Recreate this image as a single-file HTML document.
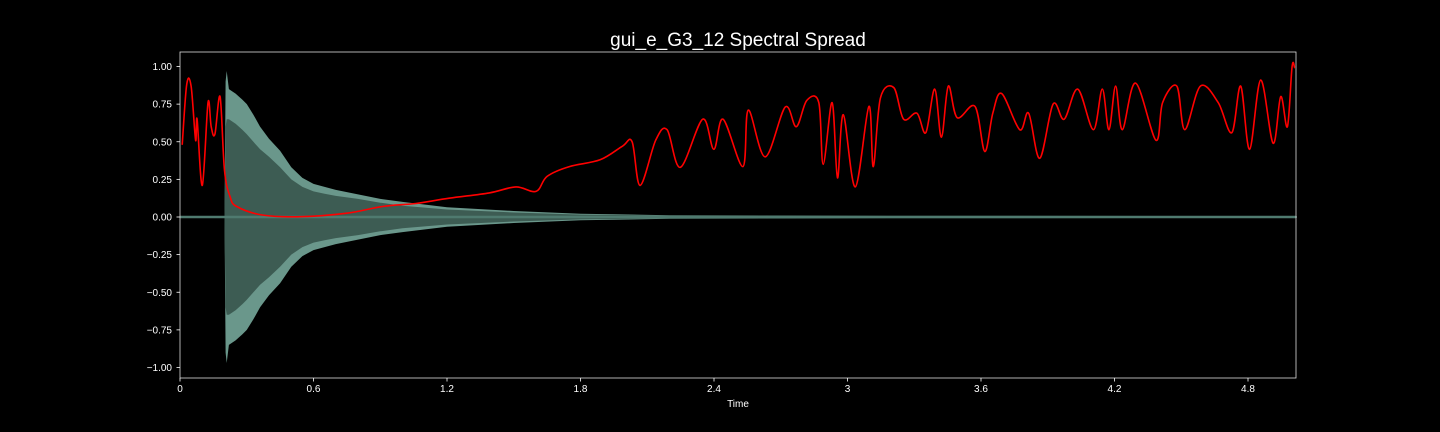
<!DOCTYPE html>
<html><head><meta charset="utf-8"><style>
html,body{margin:0;padding:0;background:#000;}
svg{display:block;font-family:"Liberation Sans",sans-serif;}
</style></head><body>
<svg id="chart" width="1440" height="432" viewBox="0 0 1440 432">
<rect width="1440" height="432" fill="#000"/>
<text x="738" y="46" fill="#fff" font-size="19" text-anchor="middle">gui_e_G3_12 Spectral Spread</text>
<g id="wave"></g>
<g id="red"></g>
<rect x="180" y="52" width="1116" height="326" fill="none" stroke="#ddd" stroke-width="0.8"/>
<g id="xticks"></g>
<g id="yticks"></g>
<text x="738" y="407" fill="#fff" font-size="10" text-anchor="middle">Time</text>
</svg>
<script>
const spreadTimes=[0.01,0.03,0.05,0.07,0.077,0.10,0.126,0.14,0.157,0.18,0.20,0.225,0.255,0.37,0.54,0.75,0.91,1.06,1.21,1.39,1.51,1.60,1.65,1.75,1.888,1.988,2.032,2.068,2.138,2.189,2.249,2.349,2.399,2.441,2.530,2.554,2.630,2.720,2.770,2.817,2.871,2.891,2.931,2.955,2.981,3.035,3.096,3.116,3.148,3.208,3.252,3.312,3.352,3.392,3.422,3.453,3.493,3.573,3.617,3.653,3.693,3.774,3.814,3.864,3.924,3.974,4.035,4.105,4.145,4.175,4.205,4.235,4.295,4.386,4.416,4.480,4.516,4.586,4.666,4.727,4.767,4.807,4.857,4.913,4.947,4.977,4.998,5.01];
const spreadValues=[0.48,0.88,0.87,0.51,0.65,0.21,0.76,0.60,0.55,0.80,0.31,0.135,0.07,0.013,0.002,0.025,0.07,0.09,0.125,0.16,0.20,0.17,0.27,0.335,0.38,0.47,0.50,0.21,0.51,0.58,0.33,0.65,0.45,0.65,0.335,0.71,0.40,0.73,0.60,0.775,0.76,0.35,0.76,0.26,0.68,0.20,0.735,0.335,0.79,0.86,0.65,0.69,0.56,0.85,0.53,0.87,0.66,0.735,0.435,0.69,0.82,0.58,0.69,0.39,0.75,0.65,0.85,0.58,0.85,0.58,0.87,0.58,0.89,0.51,0.76,0.87,0.58,0.87,0.76,0.56,0.87,0.45,0.91,0.49,0.80,0.60,1.00,0.99];
const envTimes=[0,0.2,0.205,0.21,0.22,0.25,0.28,0.30,0.33,0.36,0.40,0.45,0.50,0.55,0.60,0.65,0.70,0.80,0.90,1.0,1.2,1.5,1.8,2.2,3.0,5.02];
const envValues=[0.005,0.005,0.9,0.97,0.85,0.82,0.78,0.75,0.68,0.6,0.52,0.44,0.33,0.26,0.22,0.2,0.18,0.15,0.12,0.1,0.065,0.04,0.022,0.012,0.008,0.006];
const innerValues=[0.005,0.005,0.6,0.65,0.65,0.62,0.58,0.55,0.5,0.45,0.4,0.33,0.25,0.2,0.17,0.155,0.14,0.12,0.095,0.075,0.05,0.03,0.016,0.009,0.005,0.004];
const xTickVals=[0,0.6,1.2,1.8,2.4,3,3.6,4.2,4.8];
const xTickLabels=["0","0.6","1.2","1.8","2.4","3","3.6","4.2","4.8"];
const yTickVals=[1,0.75,0.5,0.25,0,-0.25,-0.5,-0.75,-1];
const yTickLabels=["1.00","0.75","0.50","0.25","0.00","\u22120.25","\u22120.50","\u22120.75","\u22121.00"];

const NS="http://www.w3.org/2000/svg";
const X=t=>180+t*222.5;
const Y=v=>217-v*150.5;
function mk(tag,attrs,parent){const e=document.createElementNS(NS,tag);for(const k in attrs)e.setAttribute(k,attrs[k]);parent.appendChild(e);return e;}

const wave=document.getElementById('wave');
function envPath(vals){
  let up=envTimes.map((t,i)=>X(t).toFixed(1)+','+Y(vals[i]).toFixed(1));
  let dn=envTimes.map((t,i)=>X(t).toFixed(1)+','+Y(-vals[i]).toFixed(1)).reverse();
  return 'M'+up.join('L')+'L'+dn.join('L')+'Z';
}
const outer=mk('path',{d:envPath(envValues),fill:'#6a978b'},wave);


const inner=mk('path',{d:envPath(innerValues),fill:'#3d5c53'},wave);


const base=mk('line',{x1:X(0),x2:X(5.016),y1:Y(0),y2:Y(0),stroke:'#4f7a6f','stroke-width':2.5},wave);



const red=document.getElementById('red');
const pts=spreadTimes.map((t,i)=>[X(t),Y(spreadValues[i])]);
let d='M'+pts[0][0].toFixed(1)+','+pts[0][1].toFixed(1);
for(let i=0;i<pts.length-1;i++){
  const p0=pts[Math.max(0,i-1)],p1=pts[i],p2=pts[i+1],p3=pts[Math.min(pts.length-1,i+2)];
  const c1=[p1[0]+(p2[0]-p0[0])/6,p1[1]+(p2[1]-p0[1])/6];
  const c2=[p2[0]-(p3[0]-p1[0])/6,p2[1]-(p3[1]-p1[1])/6];
  d+='C'+c1[0].toFixed(1)+','+c1[1].toFixed(1)+' '+c2[0].toFixed(1)+','+c2[1].toFixed(1)+' '+p2[0].toFixed(1)+','+p2[1].toFixed(1);
}
const rl=mk('path',{d:d,fill:'none',stroke:'#ff0000','stroke-width':1.6,'stroke-linejoin':'round'},red);



const xt=document.getElementById('xticks');
xTickVals.forEach((v,i)=>{
  const l=mk('line',{x1:X(v),x2:X(v),y1:378,y2:381.5,stroke:'#fff','stroke-width':0.8},xt);
  
  
  const t=mk('text',{x:X(v),y:392,fill:'#fff','font-size':10,'text-anchor':'middle'},xt);
  t.textContent=xTickLabels[i];
  
  
});
const yt=document.getElementById('yticks');
yTickVals.forEach((v,i)=>{
  const l=mk('line',{x1:176.5,x2:180,y1:Y(v),y2:Y(v),stroke:'#fff','stroke-width':0.8},yt);
  
  
  const t=mk('text',{x:172,y:Y(v)+3.5,fill:'#fff','font-size':10,'text-anchor':'end'},yt);
  t.textContent=yTickLabels[i];
  
  
});
</script>
</body></html>
